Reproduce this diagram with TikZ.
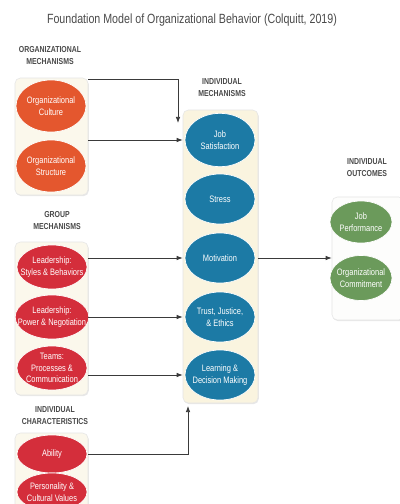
\documentclass[tikz,border=0pt]{standalone}
\usepackage{fontspec}
\setmainfont{Liberation Sans}
\newfontfamily\cond[FakeStretch=0.8]{Liberation Sans}
\usepackage{tikz}
\usetikzlibrary{arrows.meta,positioning,shapes.geometric,shadows}
\definecolor{orgred}{HTML}{E4572E}
\definecolor{grpred}{HTML}{D42E3B}
\definecolor{mechblue}{HTML}{1C7AA5}
\definecolor{outgreen}{HTML}{6B9A5B}
\definecolor{cream}{HTML}{FBF8EC}
\definecolor{mechcream}{HTML}{FAF4DF}
\definecolor{headgray}{HTML}{4A4A4A}
\definecolor{linegray}{HTML}{3A3A3A}

\begin{document}
\begin{tikzpicture}[
  x=0.75pt, y=-0.75pt,
  panel/.style={draw=black!10, fill=cream, rounded corners=4pt, minimum width=54.75pt,
    drop shadow={opacity=0.18, shadow xshift=0.6pt, shadow yshift=-0.9pt}},
  blob/.style={ellipse, draw=white, line width=0.5pt, inner xsep=-6pt, inner ysep=-2.5pt,
    minimum width=52.5pt, minimum height=37.5pt, text=white, align=center,
    font=\cond\fontsize{7}{8.5}\selectfont},
  head/.style={align=center, text=headgray, font=\cond\bfseries\fontsize{6.5}{9}\selectfont},
  arrow/.style={-{Latex[length=1.6mm, width=1.2mm]}, draw=linegray, line width=0.6pt}
]
\useasboundingbox (0,0) rectangle (400,504);
\clip (0,0) rectangle (400,504);
\fill[white] (0,0) rectangle (400,504);

\node[text=headgray, font=\cond\fontsize{10}{12}\selectfont] (title) at (192,20)
  {Foundation Model of Organizational Behavior (Colquitt, 2019)};

% panels
\node[panel, minimum height=87.75pt] (orgbox) at (51.5,136.5) {};
\node[panel, minimum height=114.75pt] (grpbox) at (51.5,318.5) {};
\node[panel, minimum height=72.75pt] (charbox) at (51.5,481.5) {};
\node[panel, fill=mechcream, minimum width=56.25pt, minimum height=219.75pt] (mechbox) at (220.5,256.5) {};
\node[panel, fill=cream!80!black!4, minimum width=54pt, minimum height=92.25pt] (outbox) at (368,258.5) {};

% headings
\node[head] (orghead) at (50,56) {ORGANIZATIONAL\\MECHANISMS};
\node[head] (grphead) at (57,221) {GROUP\\MECHANISMS};
\node[head] (charhead) at (55,416) {INDIVIDUAL\\CHARACTERISTICS};
\node[head] (mechhead) at (222,88) {INDIVIDUAL\\MECHANISMS};
\node[head] (outhead) at (367,168) {INDIVIDUAL\\OUTCOMES};

% organizational
\node[blob, fill=orgred, minimum height=39pt] (cult) at (51,106) {Organizational\\Culture};
\node[blob, fill=orgred, minimum height=39pt] (struc) at (51,166) {Organizational\\Structure};

% group
\node[blob, fill=grpred, minimum height=33pt] (lead1) at (52,267) {Leadership:\\Styles \& Behaviors};
\node[blob, fill=grpred, minimum height=33pt] (lead2) at (52,317) {Leadership:\\Power \& Negotiation};
\node[blob, fill=grpred, minimum height=33pt] (teams) at (52,368) {Teams:\\Processes \&\\Communication};

% individual characteristics
\node[blob, fill=grpred, minimum height=28.5pt] (abil) at (52,454) {Ability};
\node[blob, fill=grpred, minimum height=28.5pt] (pers) at (52,492) {Personality \&\\Cultural Values};

% individual mechanisms
\node[blob, fill=mechblue, minimum height=40pt] (js) at (220,140) {Job\\Satisfaction};
\node[blob, fill=mechblue] (stress) at (220,199) {Stress};
\node[blob, fill=mechblue] (mot) at (220,258) {Motivation};
\node[blob, fill=mechblue] (trust) at (220,317) {Trust, Justice,\\\& Ethics};
\node[blob, fill=mechblue] (learn) at (220,375) {Learning \&\\Decision Making};

% outcomes
\node[blob, fill=outgreen, minimum width=46.5pt, minimum height=31.5pt] (perf) at (361,222) {Job\\Performance};
\node[blob, fill=outgreen, minimum width=46.5pt, minimum height=33.75pt] (commit) at (361,278) {Organizational\\Commitment};

% connectors
\coordinate (jsin) at (178,123);
\coordinate (mechin) at (188,406);
\draw[arrow] (orgbox.east |- cult.north) -| (jsin);
\draw[arrow] (orgbox.east |- js) -- (mechbox.west |- js);
\draw[arrow] (grpbox.east |- mot) -- (mechbox.west |- mot);
\draw[arrow] (grpbox.east |- trust) -- (mechbox.west |- trust);
\draw[arrow] (grpbox.east |- learn) -- (mechbox.west |- learn);
\draw[arrow] (charbox.east |- abil) -| (mechin);
\draw[arrow] (mechbox.east |- mot) -- (outbox.west |- mot);
\end{tikzpicture}
\end{document}
